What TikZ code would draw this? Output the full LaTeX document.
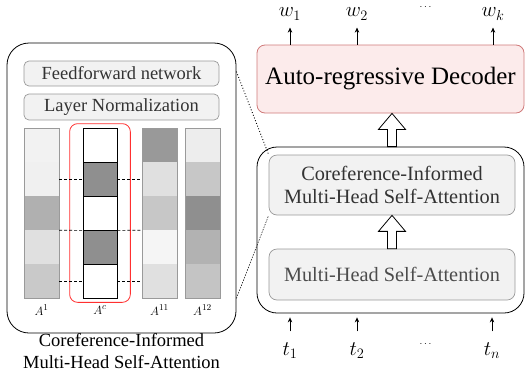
\documentclass[tikz,border=0pt]{standalone}
\usepackage{fontspec}
\setmainfont{Liberation Serif}
\usetikzlibrary{calc,arrows.meta}
\definecolor{panelfill}{HTML}{F2F2F2}
\definecolor{panelline}{HTML}{9A9A9A}
\definecolor{decfill}{HTML}{FCEBEB}
\definecolor{decline}{HTML}{D07A7A}
\definecolor{txtgray}{HTML}{333333}
\definecolor{redbox}{HTML}{FF3030}
\newcommand\holarrow[2]{%
  \draw[fill=white,line width=0.8pt] ($(#1)+(-4.5,0)$) -- ($(#2)+(-4.5,16)$) -- ($(#2)+(-13.5,16)$) -- (#2) -- ($(#2)+(13.5,16)$) -- ($(#2)+(4.5,16)$) -- ($(#1)+(4.5,0)$) -- cycle;}
\begin{document}
\begin{tikzpicture}[x=1pt,y=-1pt,
  bigbox/.style={draw=black,line width=0.8pt,fill=white,rounded corners=22pt,inner sep=0pt},
  panel/.style={draw=panelline,line width=0.7pt,fill=panelfill,rounded corners=5pt,inner sep=0pt,text=txtgray,font=\fontsize{18.5}{22}\selectfont},
  rpanel/.style={draw=panelline,line width=0.7pt,fill=panelfill,rounded corners=8pt,inner sep=0pt,text=txtgray,font=\fontsize{20.3}{23}\selectfont,align=center},
  cell/.style={minimum width=35pt,minimum height=34pt,inner sep=0pt,draw=none},
  ccell/.style={minimum width=34pt,minimum height=34pt,inner sep=0pt,draw=black,line width=0.7pt},
  colframe/.style={draw=panelline,line width=0.6pt},
  lab/.style={inner sep=0pt,font=\fontsize{13}{15}\selectfont},
  mlab/.style={inner sep=1pt,font=\fontsize{20.5}{24}\selectfont},
  dlab/.style={inner sep=0pt,font=\fontsize{10}{12}\selectfont},
  arr/.style={-{Stealth[length=5pt,width=4.5pt]},line width=0.7pt},
  link/.style={densely dashed,line width=0.6pt}
]
\useasboundingbox (0,0) rectangle (526,378);

% ---------- left panel ----------
\node[bigbox,minimum width=229pt,minimum height=290pt] (lbox) at (121.5,188) {};
\node[panel,minimum width=195pt,minimum height=25pt] (ff) at (121.5,73.5) {Feedforward network};
\node[panel,minimum width=195pt,minimum height=26pt] (ln) at (121.5,107) {Layer Normalization};

% columns
\foreach \c [count=\i] in {5,6,31,12,21}
  \node[cell,fill=black!\c] (a1-\i) at (41.5,111+34*\i) {};
\foreach \c [count=\i] in {40,12,22,4,12}
  \node[cell,fill=black!\c] (a11-\i) at (159.5,111+34*\i) {};
\foreach \c [count=\i] in {7,22,44,30,23}
  \node[cell,fill=black!\c] (a12-\i) at (202.5,111+34*\i) {};
\foreach \c [count=\i] in {0,44,0,44,0}
  \node[ccell,fill=black!\c] (ac-\i) at (100,111+34*\i) {};
\draw[colframe] (a1-1.north west) rectangle (a1-5.south east);
\draw[colframe] (a11-1.north west) rectangle (a11-5.south east);
\draw[colframe] (a12-1.north west) rectangle (a12-5.south east);
\draw[redbox,line width=0.8pt,rounded corners=8pt] ($(ac-1.north west)+(-13,-4)$) rectangle ($(ac-5.south east)+(13,4)$);

% dashed links
\draw[link] (a1-2.east) -- (ac-2.west);
\draw[link] (a1-3.south east) -- (ac-3.south west);
\draw[link] (a1-5.east) -- (ac-5.west);
\draw[link] (ac-2.east) -- (a11-2.west);
\draw[link] (ac-3.south east) -- (a11-3.south west);
\draw[link] (ac-5.east) -- (a11-5.west);

\node[lab] (la1) at (41.5,310) {$A^{1}$};
\node[lab] (lac) at (100,310) {$A^{c}$};
\node[lab] (la11) at (159.5,310) {$A^{11}$};
\node[lab] (la12) at (202.5,310) {$A^{12}$};

\node[align=center,inner sep=0pt,font=\fontsize{18.5}{22}\selectfont] (cap) at (121.5,351) {Coreference-Informed\\Multi-Head Self-Attention};

% ---------- right side ----------
\node[draw=decline,fill=decfill,line width=0.8pt,rounded corners=8pt,minimum width=267pt,minimum height=68pt,inner sep=0pt,font=\fontsize{25}{28}\selectfont] (dec) at (390.5,79) {Auto-regressive Decoder};
\node[bigbox,rounded corners=20pt,minimum width=267pt,minimum height=166pt] (rbox) at (390.5,230) {};
\node[rpanel,minimum width=246pt,minimum height=60pt] (coref) at (392,185) {Coreference-Informed\\Multi-Head Self-Attention};
\node[rpanel,minimum width=246pt,minimum height=51pt,text=black!70] (mhsa) at (392,274.5) {Multi-Head Self-Attention};

\coordinate (h1s) at (coref.north |- rbox.north);
\coordinate (h1e) at (coref.north |- dec.south);
\holarrow{h1s}{h1e}
\holarrow{mhsa.north}{coref.south}

% outputs
\node[mlab] (w1) at (290,14) {$w_1$};
\node[mlab] (w2) at (357,14) {$w_2$};
\node[dlab] (wd) at (425.5,7.5) {$\cdots$};
\node[mlab] (wk) at (493,14) {$w_k$};
\foreach \w in {w1,w2,wk}
  \draw[arr] (dec.north -| \w) -- ($(dec.north -| \w)+(0,-17)$);

% inputs
\node[mlab] (t1) at (290,351) {$t_1$};
\node[mlab] (t2) at (357,351) {$t_2$};
\node[dlab] (td) at (425.5,344.5) {$\cdots$};
\node[mlab] (tn) at (492,351) {$t_n$};
\foreach \t in {t1,t2,tn}
  \draw[arr] ($(rbox.south -| \t)+(0,18)$) -- ($(rbox.south -| \t)+(0,4)$);

% zoom lines
\draw[dotted,line width=0.9pt] ($(lbox.north east)+(0,29)$) -- (coref.north west);
\draw[densely dashed,line width=0.5pt,dash pattern=on 1.5pt off 1.2pt] ($(lbox.south east)+(0,-35)$) -- (coref.south west);
\end{tikzpicture}
\end{document}
